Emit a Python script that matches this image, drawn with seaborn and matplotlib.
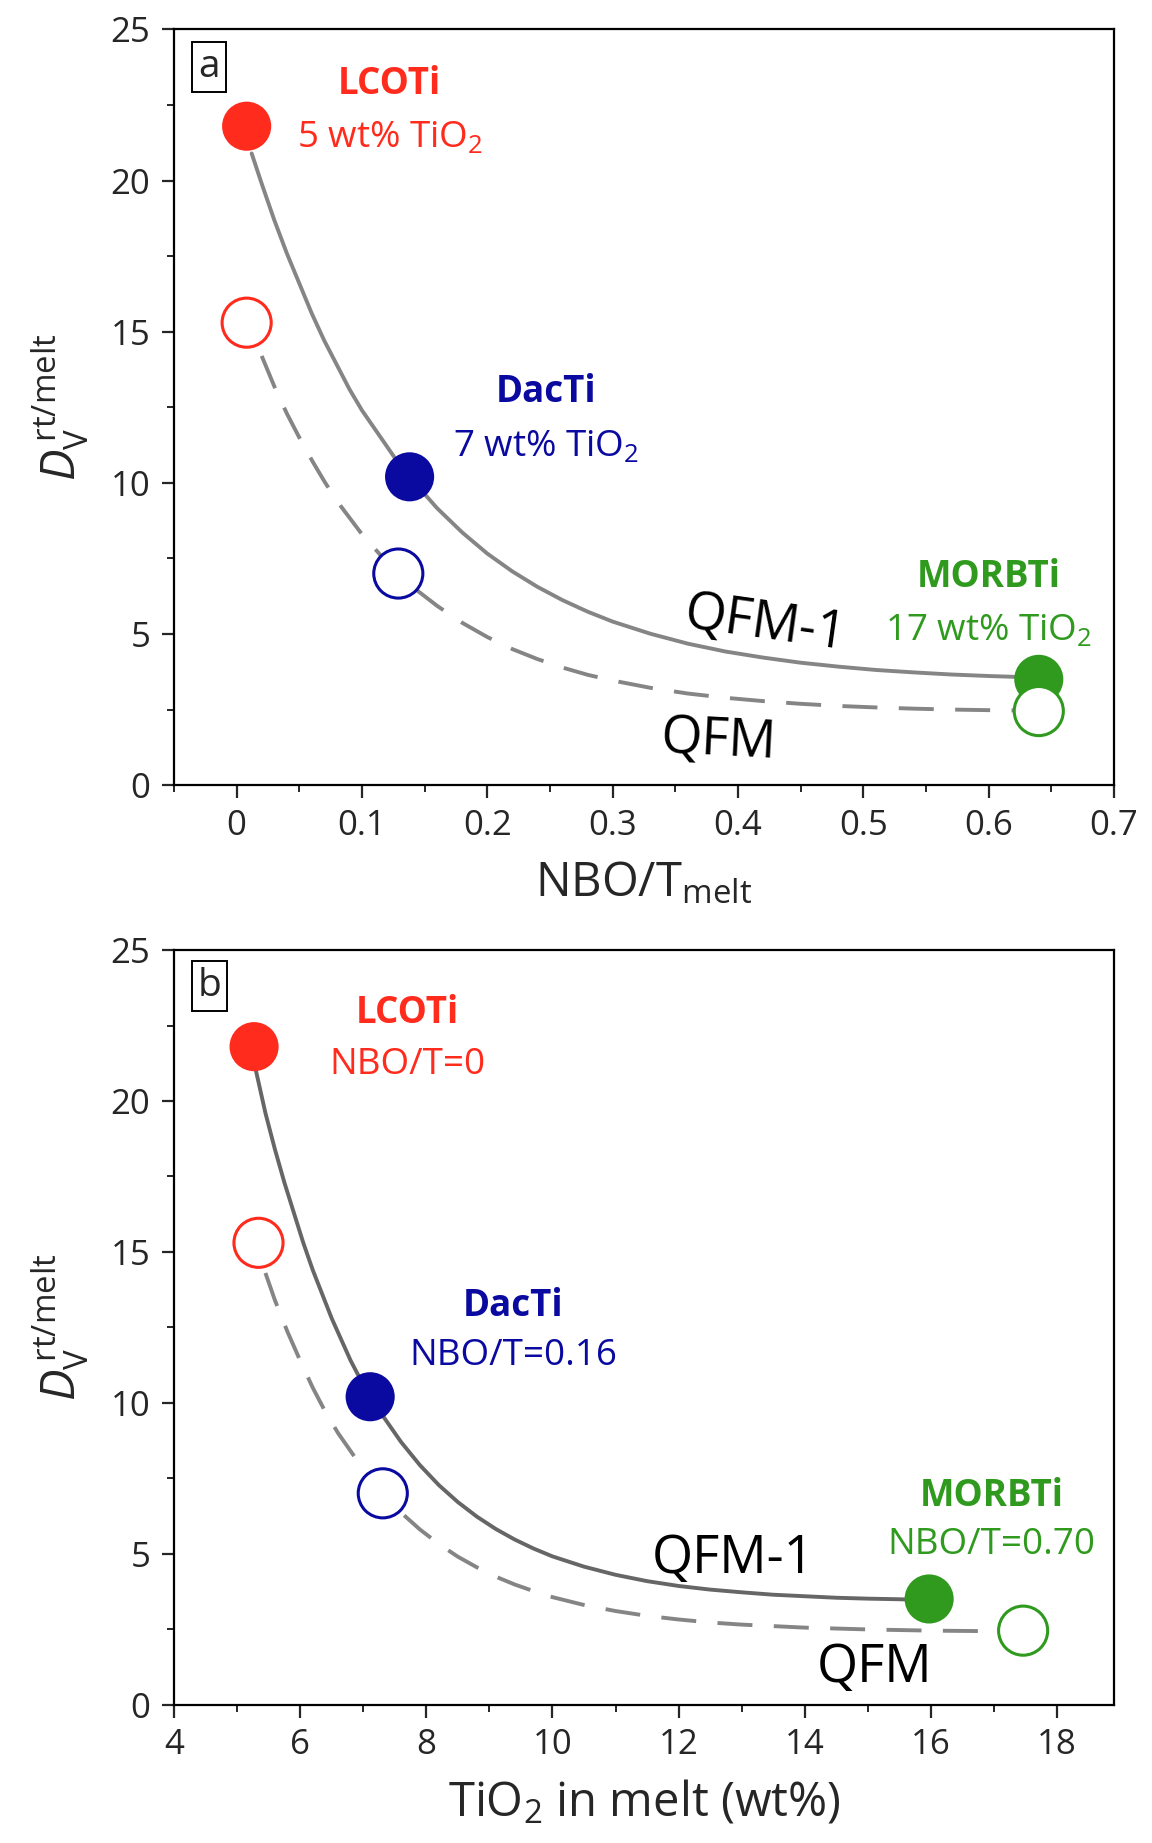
import numpy as np
import pandas as pd
import matplotlib
matplotlib.use("Agg")
import matplotlib.pyplot as plt
from matplotlib.ticker import MultipleLocator, FuncFormatter
import seaborn as sns

# ---------------- data ----------------
samples = ["LCOTi", "DacTi", "MORBTi"]
colors = ["#FF2B1C", "#0A0AA0", "#2F9A1E"]

# panel a: NBO/T of melt
nbo_qfm1 = [0.008, 0.138, 0.64]
dv_qfm1 = [21.8, 10.2, 3.5]
nbo_qfm = [0.008, 0.129, 0.64]
dv_qfm = [15.3, 7.0, 2.45]

# panel b: TiO2 in melt (wt%)
tio2_qfm1 = [5.27, 7.11, 15.97]
tio2_qfm = [5.34, 7.31, 17.46]

# trend curves
curve_a_solid_x = [0.012, 0.02, 0.03, 0.04, 0.05, 0.06, 0.07, 0.08, 0.09, 0.10, 0.11, 0.12, 0.13,
                   0.14, 0.16, 0.18, 0.20, 0.22, 0.24, 0.26, 0.28, 0.30, 0.33, 0.36, 0.39, 0.42,
                   0.45, 0.48, 0.51, 0.54, 0.57, 0.60, 0.63]
curve_a_solid_y = [20.9, 19.9, 18.7, 17.6, 16.6, 15.6, 14.7, 13.9, 13.1, 12.4, 11.8, 11.2, 10.6,
                   10.1, 9.16, 8.36, 7.66, 7.07, 6.56, 6.12, 5.74, 5.41, 5.01, 4.68, 4.42, 4.22,
                   4.05, 3.92, 3.81, 3.73, 3.66, 3.61, 3.57]
curve_a_dash_x = [0.02, 0.03, 0.04, 0.05, 0.06, 0.07, 0.08, 0.09, 0.10, 0.115, 0.13, 0.145, 0.16,
                  0.18, 0.20, 0.22, 0.24, 0.26, 0.28, 0.30, 0.33, 0.36, 0.39, 0.42, 0.45, 0.48,
                  0.51, 0.54, 0.57, 0.60, 0.625]
curve_a_dash_y = [14.2, 13.2, 12.3, 11.5, 10.75, 10.05, 9.4, 8.85, 8.3, 7.6, 7.0, 6.41, 5.93,
                  5.37, 4.90, 4.50, 4.17, 3.89, 3.65, 3.46, 3.22, 3.03, 2.89, 2.78, 2.69, 2.62,
                  2.57, 2.53, 2.50, 2.48, 2.47]
curve_b_solid_x = [5.3, 5.45, 5.6, 5.75, 5.9, 6.05, 6.2, 6.35, 6.5, 6.65, 6.8, 6.95, 7.1, 7.3,
                   7.6, 7.9, 8.2, 8.5, 8.8, 9.1, 9.4, 9.7, 10.0, 10.5, 11.0, 11.5, 12.0, 12.5,
                   13.0, 13.5, 14.0, 14.5, 15.0, 15.5, 15.8]
curve_b_solid_y = [21.0, 19.6, 18.4, 17.3, 16.3, 15.3, 14.4, 13.6, 12.8, 12.1, 11.4, 10.8, 10.3, 9.6,
                   8.70, 7.93, 7.27, 6.71, 6.23, 5.82, 5.47, 5.17, 4.91, 4.57, 4.30, 4.09, 3.93, 3.81,
                   3.72, 3.64, 3.59, 3.54, 3.51, 3.49, 3.47]
curve_b_dash_x = [5.45, 5.6, 5.8, 6.0, 6.2, 6.4, 6.6, 6.8, 7.0, 7.31, 7.6, 7.9, 8.2, 8.5, 8.8,
                  9.1, 9.4, 9.7, 10.0, 10.5, 11.0, 11.5, 12.0, 12.5, 13.0, 13.5, 14.0, 15.0,
                  16.0, 17.1]
curve_b_dash_y = [14.3, 13.4, 12.35, 11.4, 10.5, 9.7, 9.0, 8.4, 7.8, 7.0, 6.36, 5.80, 5.32, 4.90,
                  4.55, 4.24, 3.98, 3.76, 3.56, 3.30, 3.10, 2.94, 2.82, 2.72, 2.65, 2.60, 2.55,
                  2.49, 2.45, 2.43]

# ---------------- style ----------------
sns.set_style("ticks")
FONT = ["Open Sans", "DejaVu Sans"]
plt.rcParams["font.family"] = FONT
plt.rcParams["mathtext.fontset"] = "custom"
plt.rcParams["mathtext.rm"] = "Open Sans"
plt.rcParams["mathtext.it"] = "Open Sans:italic"
plt.rcParams["mathtext.bf"] = "Open Sans:bold"

fig = plt.figure(figsize=(11.52, 18.43), dpi=100)
ax_a = fig.add_axes([0.151, 0.574, 0.816, 0.410])
ax_b = fig.add_axes([0.151, 0.0751, 0.816, 0.4094])

GRAY = "#858585"
MS = 1250
TICK_FS = 25
LABEL_FS = 34
ANN_FS = 26.5
CURVE_FS = 38


def style_axes(ax):
    for s in ax.spines.values():
        s.set_linewidth(1.6)
        s.set_color("black")
    ax.tick_params(which="major", direction="out", length=9, width=1.6,
                   labelsize=TICK_FS, top=False, right=False, pad=8)
    ax.tick_params(which="minor", direction="out", length=5, width=1.4,
                   top=False, right=False)
    ax.set_ylim(0, 25)
    ax.yaxis.set_major_locator(MultipleLocator(5))
    ax.yaxis.set_minor_locator(MultipleLocator(2.5))
    ax.set_ylabel(r"$D_{\mathrm{V}}^{\,\mathrm{rt/melt}}$", fontsize=LABEL_FS, labelpad=14)


def draw_panel(ax, x_filled, y_filled, x_open, y_open, sx, sy, dx, dy, dash_color):
    sns.lineplot(x=sx, y=sy, ax=ax, color=GRAY, lw=2.8, sort=False, zorder=2)
    sns.lineplot(x=dx, y=dy, ax=ax, color=dash_color, lw=2.8, sort=False, zorder=2,
                 dashes=False).lines[-1].set_dashes([9, 5.5])
    df_f = pd.DataFrame({"x": x_filled, "y": y_filled, "s": samples})
    df_o = pd.DataFrame({"x": x_open, "y": y_open, "s": samples})
    sns.scatterplot(data=df_f, x="x", y="y", hue="s", palette=colors, s=MS,
                    linewidth=0, legend=False, ax=ax, zorder=4)
    sns.scatterplot(data=df_o, x="x", y="y", s=MS, ax=ax, legend=False, zorder=4,
                    facecolor="white", edgecolor=colors, linewidth=2.2)


# ---------- panel a ----------
draw_panel(ax_a, nbo_qfm1, dv_qfm1, nbo_qfm, dv_qfm,
           curve_a_solid_x, curve_a_solid_y, curve_a_dash_x, curve_a_dash_y, GRAY)
style_axes(ax_a)
ax_a.set_xlim(-0.05, 0.7)
ax_a.xaxis.set_major_locator(MultipleLocator(0.1))
ax_a.xaxis.set_minor_locator(MultipleLocator(0.05))
ax_a.xaxis.set_major_formatter(FuncFormatter(lambda v, _: "0" if abs(v) < 1e-9 else f"{v:.1f}"))
ax_a.set_xlabel(r"NBO/T$_{\mathrm{melt}}$", fontsize=LABEL_FS, labelpad=12)

ax_a.text(-0.022, 23.75, "a", fontsize=28, ha="center", va="center",
          bbox=dict(boxstyle="square,pad=0.15", fc="white", ec="black", lw=1.4))
ax_a.text(0.122, 23.2, "LCOTi", color=colors[0], fontsize=ANN_FS, fontweight="bold", ha="center", va="center")
ax_a.text(0.122, 21.4, r"5 wt% TiO$_2$", color=colors[0], fontsize=ANN_FS, ha="center", va="center")
ax_a.text(0.247, 13.0, "DacTi", color=colors[1], fontsize=ANN_FS, fontweight="bold", ha="center", va="center")
ax_a.text(0.247, 11.2, r"7 wt% TiO$_2$", color=colors[1], fontsize=ANN_FS, ha="center", va="center")
ax_a.text(0.60, 6.9, "MORBTi", color=colors[2], fontsize=ANN_FS, fontweight="bold", ha="center", va="center")
ax_a.text(0.60, 5.1, r"17 wt% TiO$_2$", color=colors[2], fontsize=ANN_FS, ha="center", va="center")
ax_a.text(0.422, 5.3, "QFM-1", color="black", fontsize=CURVE_FS, ha="center", va="center", rotation=-8)
ax_a.text(0.385, 1.45, "QFM", color="black", fontsize=CURVE_FS, ha="center", va="center", rotation=-3)

# ---------- panel b ----------
draw_panel(ax_b, tio2_qfm1, dv_qfm1, tio2_qfm, dv_qfm,
           curve_b_solid_x, curve_b_solid_y, curve_b_dash_x, curve_b_dash_y, GRAY)
ax_b.lines[0].set_color("#666666")
style_axes(ax_b)
ax_b.set_xlim(4, 18.9)
ax_b.xaxis.set_major_locator(MultipleLocator(2))
ax_b.xaxis.set_minor_locator(MultipleLocator(1))
ax_b.set_xlabel(r"TiO$_2$ in melt (wt%)", fontsize=LABEL_FS, labelpad=12)

ax_b.text(4.56, 23.8, "b", fontsize=28, ha="center", va="center",
          bbox=dict(boxstyle="square,pad=0.15", fc="white", ec="black", lw=1.4))
ax_b.text(7.7, 22.9, "LCOTi", color=colors[0], fontsize=ANN_FS, fontweight="bold", ha="center", va="center")
ax_b.text(7.7, 21.2, "NBO/T=0", color=colors[0], fontsize=ANN_FS, ha="center", va="center")
ax_b.text(9.38, 13.2, "DacTi", color=colors[1], fontsize=ANN_FS, fontweight="bold", ha="center", va="center")
ax_b.text(9.38, 11.55, "NBO/T=0.16", color=colors[1], fontsize=ANN_FS, ha="center", va="center")
ax_b.text(16.96, 6.9, "MORBTi", color=colors[2], fontsize=ANN_FS, fontweight="bold", ha="center", va="center")
ax_b.text(16.96, 5.3, "NBO/T=0.70", color=colors[2], fontsize=ANN_FS, ha="center", va="center")
ax_b.text(12.86, 4.8, "QFM-1", color="black", fontsize=CURVE_FS, ha="center", va="center")
ax_b.text(15.1, 1.2, "QFM", color="black", fontsize=CURVE_FS, ha="center", va="center")

fig.savefig("out.png", dpi=100, facecolor="white")
